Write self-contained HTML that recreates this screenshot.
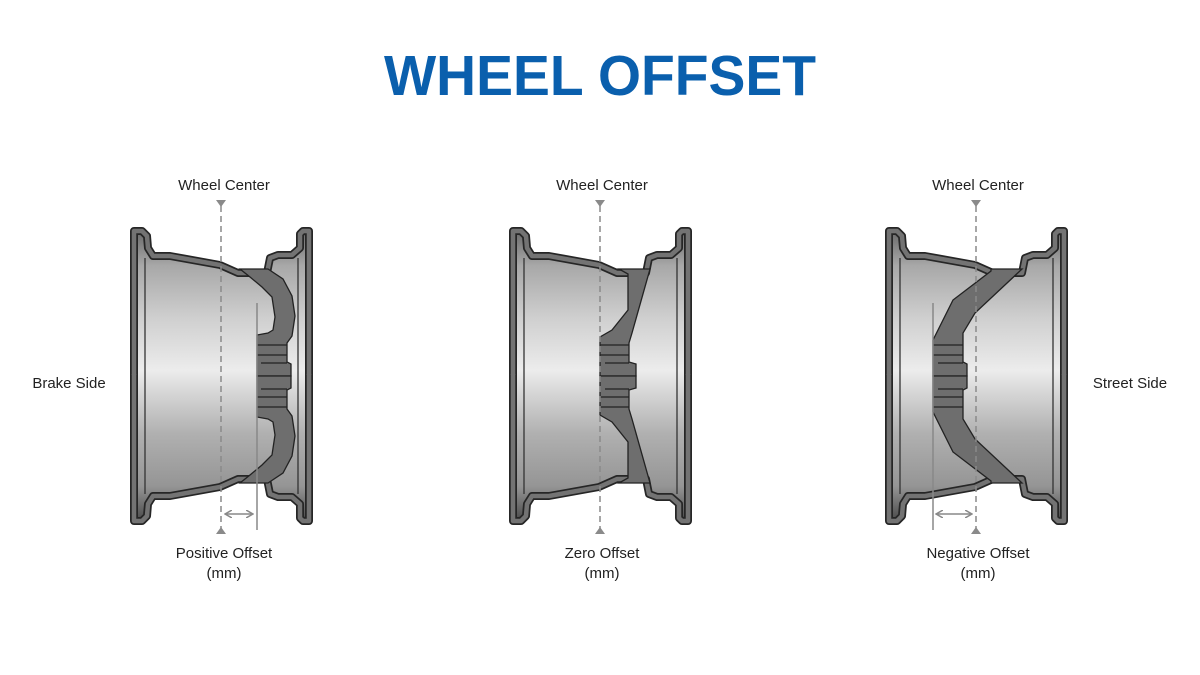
<!DOCTYPE html>
<html><head><meta charset="utf-8"><style>
html,body{margin:0;padding:0;background:#fff;width:1200px;height:675px;overflow:hidden}
svg{display:block}
text{font-family:"Liberation Sans",sans-serif}
</style></head><body>
<svg width="1200" height="675" viewBox="0 0 1200 675" xmlns="http://www.w3.org/2000/svg">
<defs>
<linearGradient id="bg" x1="0" y1="0" x2="0" y2="1">
<stop offset="0" stop-color="#6a6a6a"/>
<stop offset="0.12" stop-color="#a8a8a8"/>
<stop offset="0.3" stop-color="#cfcfcf"/>
<stop offset="0.48" stop-color="#ececec"/>
<stop offset="0.55" stop-color="#d8d8d8"/>
<stop offset="0.7" stop-color="#b0b0b0"/>
<stop offset="0.88" stop-color="#959595"/>
<stop offset="1" stop-color="#4a4a4a"/>
</linearGradient>
<marker id="ah" markerWidth="8" markerHeight="8" refX="6" refY="4" orient="auto-start-reverse" markerUnits="userSpaceOnUse">
<path d="M0,0 L7,4 L0,8" fill="none" stroke="#888" stroke-width="1.5"/>
</marker>
<g id="shell">
<polygon fill="url(#bg)" points="134,231 142,231 147,236 148,248 153,256 170,256 220,265 238,273 267,273 270,258 278,255 292,255 300,248 300,234 303,231 309,231 309,521 303,521 300,518 300,504 292,497 278,497 270,494 267,479 238,479 220,487 170,496 153,496 148,504 147,516 142,521 134,521"/>
<g fill="none" stroke-linejoin="round" stroke-linecap="butt">
<path d="M134,378 L134,231 L142,231 L147,236 L148,248 L153,256 L170,256 L220,265 L238,273 L267,273 L270,258 L278,255 L292,255 L300,248 L300,234 L303,231 L309,231 L309,378" stroke="#262626" stroke-width="8"/>
<path d="M134,378 L134,231 L142,231 L147,236 L148,248 L153,256 L170,256 L220,265 L238,273 L267,273 L270,258 L278,255 L292,255 L300,248 L300,234 L303,231 L309,231 L309,378" stroke="#737373" stroke-width="4.5"/>
<g transform="matrix(1 0 0 -1 0 752)">
<path d="M134,377 L134,231 L142,231 L147,236 L148,248 L153,256 L170,256 L220,265 L238,273 L267,273 L270,258 L278,255 L292,255 L300,248 L300,234 L303,231 L309,231 L309,377" stroke="#262626" stroke-width="8"/>
<path d="M134,378 L134,231 L142,231 L147,236 L148,248 L153,256 L170,256 L220,265 L238,273 L267,273 L270,258 L278,255 L292,255 L300,248 L300,234 L303,231 L309,231 L309,378" stroke="#737373" stroke-width="4.5"/>
</g>
</g>
<line x1="145" y1="258" x2="145" y2="494" stroke="#333" stroke-width="1.3"/>
<line x1="298" y1="258" x2="298" y2="494" stroke="#333" stroke-width="1.3"/>
</g>
<g id="d1h">
<polygon fill="#6e6e6e" stroke="#222" stroke-width="1.3" points="240,269 268,269 283,279 292,296 295,316 292,336 287,343 287,362 291,364 291,376 257,376 257,335 268,333 273,330 275,317 272,297 262,287 250,277"/>
<line x1="257" y1="345" x2="287" y2="345" stroke="#222" stroke-width="1.2"/>
<line x1="257" y1="355" x2="287" y2="355" stroke="#222" stroke-width="1.2"/>
<line x1="261" y1="363" x2="287" y2="363" stroke="#222" stroke-width="1.2"/>
</g>
<g id="d2h">
<polygon fill="#6e6e6e" stroke="#222" stroke-width="1.3" points="240,269 271,269 253,333 250,343 250,362 257,364 257,376 221,376 221,337 233,330 249,310 249,274"/>
<line x1="221" y1="345" x2="250" y2="345" stroke="#222" stroke-width="1.2"/>
<line x1="221" y1="355" x2="250" y2="355" stroke="#222" stroke-width="1.2"/>
<line x1="226" y1="363" x2="250" y2="363" stroke="#222" stroke-width="1.2"/>
</g>
<g id="d3h">
<polygon fill="#6e6e6e" stroke="#222" stroke-width="1.3" points="236,269 267,269 220,313 208,333 208,362 212,364 212,376 178,376 178,340 198,300 236,271"/>
<line x1="178" y1="345" x2="208" y2="345" stroke="#222" stroke-width="1.2"/>
<line x1="178" y1="355" x2="208" y2="355" stroke="#222" stroke-width="1.2"/>
<line x1="183" y1="363" x2="208" y2="363" stroke="#222" stroke-width="1.2"/>
</g>
<g id="cl">
<line x1="221" y1="206" x2="221" y2="528" stroke="#8a8a8a" stroke-width="1.5" stroke-dasharray="6,4"/>
<polygon points="216,200 226,200 221,207" fill="#8a8a8a"/>
<polygon points="216,534 226,534 221,527" fill="#8a8a8a"/>
</g>
</defs>

<text x="600" y="95" text-anchor="middle" font-size="57" font-weight="bold" fill="#0a5fad" textLength="432" lengthAdjust="spacingAndGlyphs">WHEEL OFFSET</text>

<g>
<use href="#shell"/>
<use href="#d1h"/>
<use href="#d1h" transform="matrix(1 0 0 -1 0 752)"/>
<use href="#cl"/>
<line x1="257" y1="303" x2="257" y2="530" stroke="#888" stroke-width="1.5"/>
<line x1="226" y1="514" x2="252" y2="514" stroke="#888" stroke-width="1.5" marker-start="url(#ah)" marker-end="url(#ah)"/>
</g>
<g transform="translate(379,0)">
<use href="#shell"/>
<use href="#d2h"/>
<use href="#d2h" transform="matrix(1 0 0 -1 0 752)"/>
<use href="#cl"/>
</g>
<g transform="translate(755,0)">
<use href="#shell"/>
<use href="#d3h"/>
<use href="#d3h" transform="matrix(1 0 0 -1 0 752)"/>
<use href="#cl"/>
<line x1="178" y1="303" x2="178" y2="530" stroke="#888" stroke-width="1.5"/>
<line x1="182" y1="514" x2="216" y2="514" stroke="#888" stroke-width="1.5" marker-start="url(#ah)" marker-end="url(#ah)"/>
</g>

<g font-size="15" fill="#222" text-anchor="middle">
<text x="224" y="190">Wheel Center</text>
<text x="602" y="190">Wheel Center</text>
<text x="978" y="190">Wheel Center</text>
<text x="69" y="388">Brake Side</text>
<text x="1130" y="388">Street Side</text>
<text x="224" y="558">Positive Offset</text>
<text x="224" y="578">(mm)</text>
<text x="602" y="558">Zero Offset</text>
<text x="602" y="578">(mm)</text>
<text x="978" y="558">Negative Offset</text>
<text x="978" y="578">(mm)</text>
</g>
</svg>
</body></html>
